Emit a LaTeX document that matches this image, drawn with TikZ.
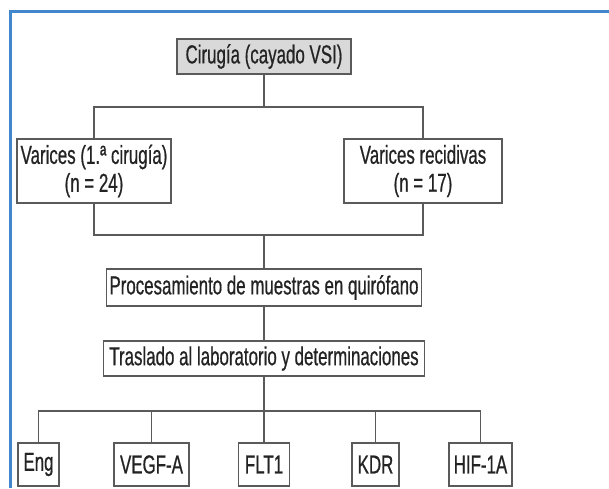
\documentclass[tikz,border=0pt]{standalone}
\usepackage{fontspec}
\setmainfont{Liberation Sans}[FakeStretch=0.65,FakeBold=0.6]
\usepackage{tikz}
\usetikzlibrary{positioning}
\definecolor{frameblue}{RGB}{66,134,204}
\definecolor{boxgray}{RGB}{217,217,217}
\definecolor{linegray}{RGB}{90,90,90}
\definecolor{textgray}{RGB}{35,35,35}

\begin{document}
\begin{tikzpicture}[x=1pt,y=-1pt]
\useasboundingbox[fill=white] (0,0) rectangle (609,488);
\draw[frameblue,line width=3] (10.5,488) -- (10.5,11.5) -- (609,11.5);

\begin{scope}[every node/.style={draw=linegray,line width=1.1,inner sep=0pt,text=textgray,
              align=center,font=\fontsize{26}{28}\selectfont}]
    \node[fill=boxgray,minimum width=174,minimum height=35] (cir) at (264,56.5) {Cirugía (cayado VSI)};

    \node[minimum width=154,minimum height=64] (var1) at (94,171) {Varices (1.ª cirugía)\\(n = 24)};
    \node[minimum width=158,minimum height=64] (var2) at (423,171) {Varices recidivas\\(n = 17)};

    \node[minimum width=315,minimum height=37] (proc) at (264,287.5) {Procesamiento de muestras en quirófano};
    \node[minimum width=321,minimum height=35] (tras) at (264,358.5) {Traslado al laboratorio y determinaciones};

    \node[minimum width=41,minimum height=43] (eng) at (38.5,464.5) {Eng};
    \node[minimum width=75,minimum height=43] (vegf) at (151.5,464.5) {VEGF-A};
    \node[minimum width=51,minimum height=43] (flt) at (264,464.5) {FLT1};
    \node[minimum width=47,minimum height=43] (kdr) at (375.5,464.5) {KDR};
    \node[minimum width=63,minimum height=43] (hif) at (480.5,464.5) {HIF-1A};
\end{scope}

\coordinate (split1) at (264,107);
\coordinate (join1) at (264,235);
\coordinate (split2) at (264,411);

\begin{scope}[every path/.style={draw=linegray,line width=1.1}]
     \draw (cir) -- (split1);
     \draw (var1.north) |- (split1) -| (var2.north);

     \draw (var1.south) |- (join1) -| (var2.south);
     \draw (join1) -- (proc);

     \draw (proc) -- (tras);
     \draw (tras) -- (split2);

     \foreach \n in {eng,vegf,flt,kdr,hif}
        \draw (split2) -| (\n.north);
\end{scope}
\end{tikzpicture}
\end{document}
